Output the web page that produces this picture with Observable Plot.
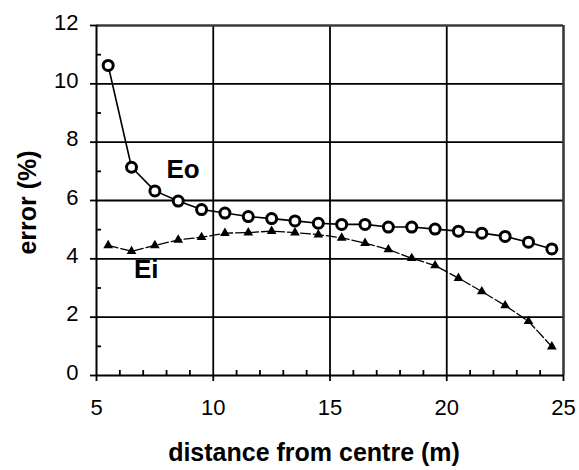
<!DOCTYPE html>
<html><head><meta charset="utf-8">
<script src="https://cdn.jsdelivr.net/npm/d3@7"></script>
<script src="https://cdn.jsdelivr.net/npm/@observablehq/plot@0.6"></script>
<style>body{margin:0;background:#fff}</style>
</head><body><div id="chart"></div>
<script>
const distance = [5.5, 6.5, 7.5, 8.5, 9.5, 10.5, 11.5, 12.5, 13.5, 14.5, 15.5, 16.5, 17.5, 18.5, 19.5, 20.5, 21.5, 22.5, 23.5, 24.5];
const eoValues = [10.63, 7.14, 6.33, 5.98, 5.69, 5.57, 5.45, 5.38, 5.30, 5.22, 5.18, 5.18, 5.09, 5.09, 5.02, 4.95, 4.88, 4.77, 4.57, 4.34];
const eiValues = [4.46, 4.26, 4.46, 4.65, 4.74, 4.88, 4.90, 4.95, 4.90, 4.83, 4.72, 4.54, 4.32, 4.02, 3.77, 3.34, 2.88, 2.40, 1.86, 0.99];
const xMajorTicks = [5, 10, 15, 20, 25];
const xMinorTicks = [6, 7, 8, 9, 11, 12, 13, 14, 16, 17, 18, 19, 21, 22, 23, 24];
const yMajorTicks = [0, 2, 4, 6, 8, 10, 12];
const yMinorTicks = [1, 3, 5, 7, 9, 11];
const seriesNames = ["Eo", "Ei"];
const labelX = [8.71, 7.13];
const labelY = [7.05, 3.62];
const xTitle = "distance from centre (m)";
const yTitle = "error (%)";

const eo = distance.map((d, i) => ({x: d, y: eoValues[i]}));
const ei = distance.map((d, i) => ({x: d, y: eiValues[i]}));
const labels = seriesNames.map((n, i) => ({name: n, x: labelX[i], y: labelY[i]}));

const chart = Plot.plot({
  width: 579, height: 470,
  marginLeft: 96, marginRight: 16, marginTop: 25, marginBottom: 95,
  style: {fontFamily: "'Liberation Sans', Arial, sans-serif", fontSize: "22px", color: "#000", background: "#fff"},
  x: {domain: [5, 25]},
  y: {domain: [0, 12]},
  marks: [
    Plot.ruleX(xMajorTicks.slice(1, -1), {stroke: "#000", strokeWidth: 1.8}),
    Plot.ruleY(yMajorTicks.slice(1, -1), {stroke: "#000", strokeWidth: 1.8}),
    Plot.ruleX([25], {stroke: "#3a3a3a", strokeWidth: 2.6}),
    Plot.ruleY([12], {stroke: "#3a3a3a", strokeWidth: 2.6}),
    Plot.ruleX([5], {stroke: "#000", strokeWidth: 2}),
    Plot.ruleY([0], {stroke: "#000", strokeWidth: 2}),
    Plot.axisX(xMajorTicks, {tickSize: 6, strokeWidth: 1.8, tickFormat: () => "", label: null}),
    Plot.axisX(xMinorTicks, {tickSize: 5, dy: -5, strokeWidth: 1.8, tickFormat: () => "", label: null}),
    Plot.axisX(xMajorTicks, {tickSize: 0, tickPadding: 24, fontSize: 22, label: null}),
    Plot.axisY(yMajorTicks, {tickSize: 6, strokeWidth: 1.8, tickFormat: () => "", label: null}),
    Plot.axisY(yMinorTicks, {tickSize: 5, dx: 5, strokeWidth: 1.8, tickFormat: () => "", label: null}),
    Plot.axisY(yMajorTicks, {tickSize: 0, tickPadding: 18, dy: -3, fontSize: 22, label: null}),
    Plot.line(ei, {x: "x", y: "y", stroke: "#000", strokeWidth: 1.3, strokeDasharray: "10,3"}),
    Plot.dot(ei, {x: "x", y: "y", symbol: "triangle", r: 3.6, fill: "#000", stroke: "none"}),
    Plot.line(eo, {x: "x", y: "y", stroke: "#000", strokeWidth: 1.6}),
    Plot.dot(eo, {x: "x", y: "y", r: 5, fill: "#fff", stroke: "#000", strokeWidth: 3}),
    Plot.text(labels, {x: "x", y: "y", text: "name", fontWeight: "bold", fontSize: 26}),
    Plot.text([yTitle], {frameAnchor: "left", textAnchor: "middle", lineAnchor: "middle", dx: -69, dy: 2, rotate: -90, fontWeight: "bold", fontSize: 25}),
    Plot.text([xTitle], {frameAnchor: "bottom", textAnchor: "middle", lineAnchor: "middle", dx: -16, dy: 77, fontWeight: "bold", fontSize: 25})
  ]
});
document.getElementById("chart").appendChild(chart);
</script>
</body></html>
